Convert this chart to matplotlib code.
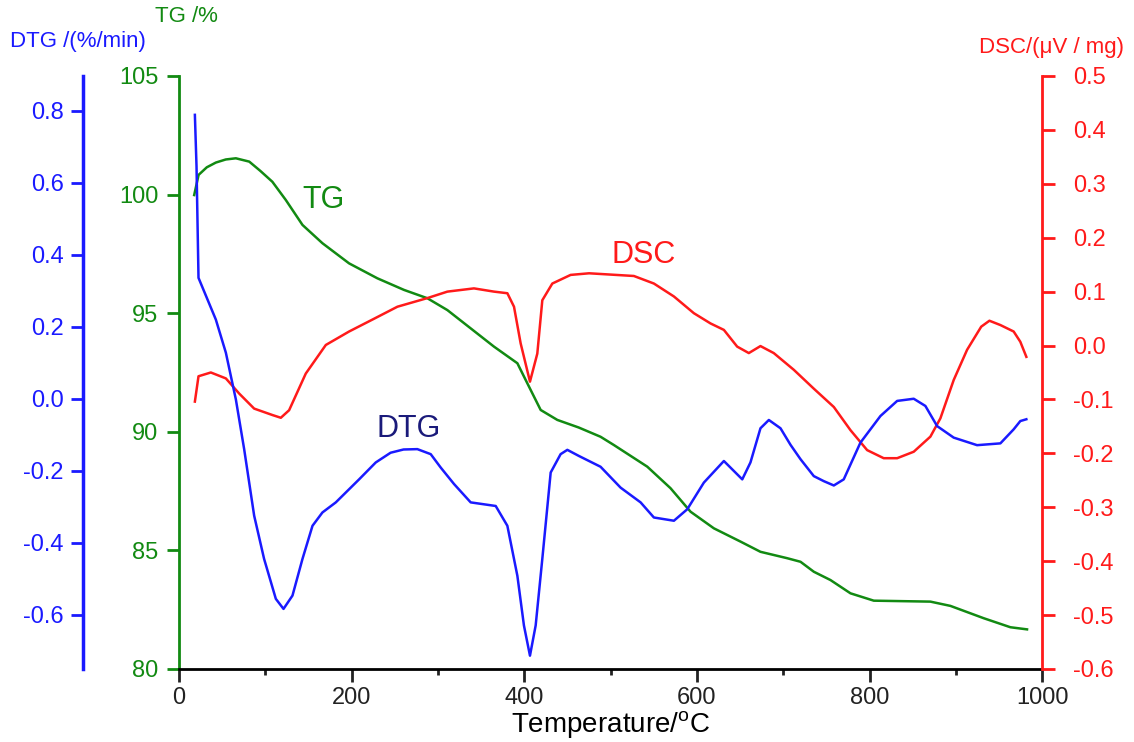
import matplotlib.pyplot as plt

plt.rcParams['font.family'] = ['Liberation Sans', 'DejaVu Sans']

# TG curve (%)
tg_temp = [17.4, 22.5, 32, 42.5, 54, 65.7, 81.2, 94, 108, 123.6, 142.9, 166, 196.9, 229.7,
           260.6, 287.6, 310.8, 337.8, 364.8, 391.9, 403.5, 418.9, 438.2, 463,
           488.3, 503.8, 542.4, 569.4, 592.6, 619.6, 650.5, 673.6, 704.6, 720,
           735.4, 754.7, 777.9, 804.9, 870.5, 893.7, 932.3, 963.2, 982.5]
tg_pct = [99.98, 100.83, 101.15, 101.35, 101.48, 101.53, 101.39, 101.0, 100.54, 99.77,
          98.72, 97.95, 97.1, 96.47, 95.98, 95.63, 95.13, 94.36, 93.59, 92.89, 92.04,
          90.92, 90.5, 90.18, 89.79, 89.44, 88.53, 87.62, 86.63, 85.93, 85.37, 84.94,
          84.67, 84.52, 84.1, 83.75, 83.19, 82.88, 82.84, 82.66, 82.14, 81.76, 81.67]

# DTG curve (%/min)
dtg_temp = [18.2, 20.1, 22.4, 42.5, 54.1, 65.7, 75.3, 86.9, 98.4, 112, 120.9, 131.3,
            142.9, 154.5, 166, 181.5, 208.5, 227.8, 245, 260, 276, 291.5, 303, 318.5,
            337.8, 366.8, 380.3, 391.9, 399.5, 406.5, 413.1, 420.8, 430.5, 442,
            449.8, 463.2, 488.3, 511.5, 534.7, 550.1, 573.3, 588.8, 608, 631.2,
            652.5, 662, 673.6, 683.3, 696.8, 708.4, 720, 735.4, 747, 758.6, 770.1,
            789.4, 812.6, 832, 851.2, 864.7, 878.3, 897.5, 924.6, 951.6, 967,
            974.7, 981.7]
dtg_rate = [0.789, 0.646, 0.336, 0.220, 0.128, -0.002, -0.140, -0.325, -0.445, -0.556,
            -0.584, -0.547, -0.445, -0.353, -0.316, -0.288, -0.224, -0.177, -0.150,
            -0.141, -0.140, -0.154, -0.191, -0.237, -0.288, -0.298, -0.353, -0.492,
            -0.630, -0.714, -0.630, -0.445, -0.205, -0.154, -0.142, -0.159, -0.189,
            -0.247, -0.288, -0.330, -0.339, -0.307, -0.233, -0.173, -0.224, -0.177,
            -0.082, -0.059, -0.082, -0.128, -0.168, -0.215, -0.229, -0.241, -0.224,
            -0.122, -0.048, -0.006, 0.000, -0.020, -0.076, -0.108, -0.129, -0.124,
            -0.085, -0.062, -0.057]

# DSC curve (uV/mg)
dsc_temp = [18.2, 22.4, 36.7, 54.1, 69.5, 86.9, 108.2, 117.8, 127.4, 146.7, 169.9,
            196.9, 225, 252.9, 287.6, 310.8, 341.6, 364.8, 380.3, 388, 395.7, 406.5,
            415, 420.8, 432.4, 453.6, 475, 526.9, 550.1, 573.3, 596.4, 615.7, 631.2,
            646.6, 660.1, 673.6, 689, 712.2, 735.4, 758.6, 777.9, 797.2, 816.4, 832,
            851.2, 870.5, 882.1, 897.5, 913, 929.4, 938.9, 951.6, 967, 974.7, 981.7]
dsc_val = [-0.104, -0.057, -0.050, -0.061, -0.089, -0.117, -0.129, -0.134, -0.120,
           -0.052, 0.001, 0.026, 0.049, 0.072, 0.088, 0.100, 0.106, 0.100, 0.097,
           0.072, 0.004, -0.067, -0.015, 0.084, 0.115, 0.131, 0.134, 0.129, 0.115,
           0.091, 0.060, 0.041, 0.029, -0.002, -0.014, -0.001, -0.014, -0.045,
           -0.080, -0.114, -0.157, -0.194, -0.209, -0.209, -0.197, -0.169, -0.135,
           -0.064, -0.008, 0.035, 0.046, 0.038, 0.026, 0.007, -0.021]

green = '#128a12'
blue = '#1a1aff'
red = '#ff1a1a'

fig = plt.figure(figsize=(11.34, 7.42), dpi=100)
ax = fig.add_axes([0.158, 0.0984, 0.761, 0.7992])
ax_dsc = ax.twinx()
ax_dtg = ax.twinx()

# TG axis (inner left)
ax.plot(tg_temp, tg_pct, color=green, lw=1.8)
ax.set_xlim(0, 1000)
ax.set_ylim(80, 105)
ax.set_yticks([80, 85, 90, 95, 100, 105])
ax.spines['top'].set_visible(False)
ax.spines['right'].set_visible(False)
ax.spines['left'].set_color(green)
ax.spines['left'].set_linewidth(2)
ax.spines['bottom'].set_linewidth(2)
ax.tick_params(axis='y', colors=green, labelsize=17, length=9, width=2, pad=6)
ax.set_xticks([0, 200, 400, 600, 800, 1000])
ax.set_xticks([100, 300, 500, 700, 900], minor=True)
ax.tick_params(axis='x', which='major', labelsize=17, length=9, width=2, pad=4,
               colors='#222222')
ax.tick_params(axis='x', which='minor', length=4, width=2, colors='#222222')
ax.set_xlabel(r'Temperature/$^\mathregular{o}$C', fontsize=20, labelpad=0)

# DSC axis (right)
ax_dsc.plot(dsc_temp, dsc_val, color=red, lw=1.8)
ax_dsc.set_ylim(-0.6, 0.5)
ax_dsc.set_yticks([-0.6, -0.5, -0.4, -0.3, -0.2, -0.1, 0.0, 0.1, 0.2, 0.3, 0.4, 0.5])
ax_dsc.set_yticklabels(['-0.6', '-0.5', '-0.4', '-0.3', '-0.2', '-0.1', '0.0',
                        '0.1', '0.2', '0.3', '0.4', '0.5'])
for s in ['top', 'left', 'bottom']:
    ax_dsc.spines[s].set_visible(False)
ax_dsc.spines['right'].set_color(red)
ax_dsc.spines['right'].set_linewidth(2)
ax_dsc.tick_params(axis='y', colors=red, labelsize=17, length=9, width=2, pad=13)

# DTG axis (outer left)
ax_dtg.plot(dtg_temp, dtg_rate, color=blue, lw=1.8)
ax_dtg.set_ylim(-0.751, 0.897)
ax_dtg.set_yticks([-0.6, -0.4, -0.2, 0.0, 0.2, 0.4, 0.6, 0.8])
ax_dtg.set_yticklabels(['-0.6', '-0.4', '-0.2', '0.0', '0.2', '0.4', '0.6', '0.8'])
for s in ['top', 'right', 'bottom']:
    ax_dtg.spines[s].set_visible(False)
ax_dtg.spines['left'].set_visible(True)
ax_dtg.spines['left'].set_position(('axes', -0.111))
ax_dtg.spines['left'].set_color(blue)
ax_dtg.spines['left'].set_linewidth(2.5)
ax_dtg.yaxis.set_ticks_position('left')
ax_dtg.yaxis.set_label_position('left')
ax_dtg.tick_params(axis='y', colors=blue, labelsize=17, length=9, width=2, pad=5)

# curve labels
ax.text(143, 99.77, 'TG', color=green, fontsize=22, va='center', ha='left')
ax_dsc.text(501, 0.168, 'DSC', color=red, fontsize=22, va='center', ha='left')
ax_dtg.text(229, -0.085, 'DTG', color='#1a1a7a', fontsize=22, va='center', ha='left')

# axis titles
fig.text(155 / 1134, 1 - 17 / 742, 'TG /%', color=green, fontsize=16, va='center', ha='left')
fig.text(10 / 1134, 1 - 42 / 742, 'DTG /(%/min)', color=blue, fontsize=16, va='center', ha='left')
fig.text(979 / 1134, 1 - 48 / 742, 'DSC/(μV / mg)', color=red, fontsize=16, va='center', ha='left')

fig.savefig('out.png', dpi=100)
